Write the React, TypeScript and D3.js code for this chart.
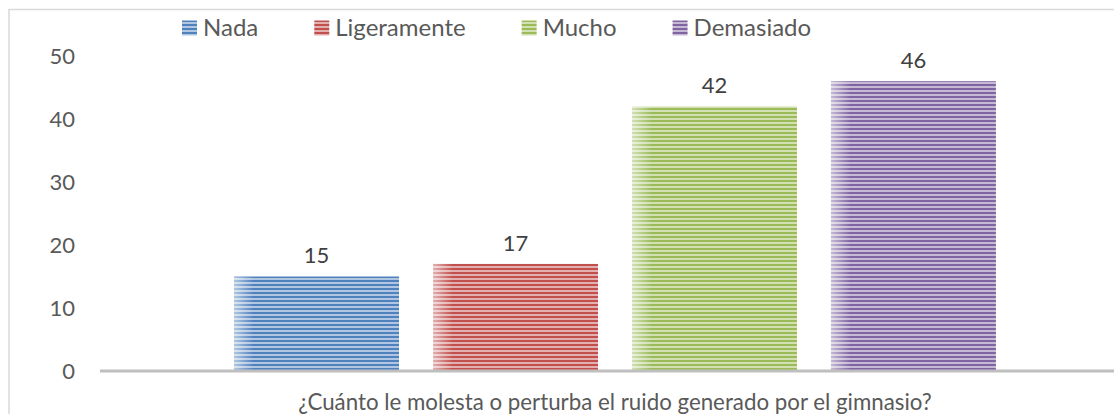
import * as d3 from 'd3';
import React, { useEffect, useRef } from 'react';

const categories = ['¿Cuánto le molesta o perturba el ruido generado por el gimnasio?'];
const seriesNames = ['Nada', 'Ligeramente', 'Mucho', 'Demasiado'];
const seriesValues = [15, 17, 42, 46];
const seriesColors = ['#4F81BD', '#C0504D', '#9BBB59', '#8064A2'];
const yTicks = [0, 10, 20, 30, 40, 50];

const W = 1114;
const H = 414;
const FONT = 'Lato, "Open Sans", sans-serif';

export default function App() {
  const svgRef = useRef<SVGSVGElement | null>(null);

  useEffect(() => {
    if (!svgRef.current) return;
    const svg = d3.select(svgRef.current);
    svg.selectAll('*').remove();

    const plotLeft = 100;
    const plotRight = 1130;
    const y = d3.scaleLinear().domain([0, 50]).range([371, 56]);
    const x0 = d3.scaleBand<string>().domain(categories).range([plotLeft, plotRight]).paddingOuter(0.176).paddingInner(0);
    const x1 = d3.scaleBand<string>().domain(seriesNames).range([0, x0.bandwidth()]).paddingInner(0.171);

    const defs = svg.append('defs');
    seriesNames.forEach((name, i) => {
      const base = seriesColors[i];
      const light = d3.interpolateRgb(base, '#ffffff')(0.55);
      const pat = defs.append('pattern')
        .attr('id', `stripe-${i}`)
        .attr('patternUnits', 'userSpaceOnUse')
        .attr('width', 8)
        .attr('height', 4);
      pat.append('rect').attr('width', 8).attr('height', 4).attr('fill', light);
      pat.append('rect').attr('width', 8).attr('height', 2).attr('fill', base);
    });
    const fade = defs.append('linearGradient')
      .attr('id', 'fade')
      .attr('x1', '0%').attr('x2', '100%').attr('y1', '0%').attr('y2', '0%');
    fade.append('stop').attr('offset', '0%').attr('stop-color', '#fff').attr('stop-opacity', 0.55);
    fade.append('stop').attr('offset', '12%').attr('stop-color', '#fff').attr('stop-opacity', 0);
    fade.append('stop').attr('offset', '100%').attr('stop-color', '#fff').attr('stop-opacity', 0);

    // chart frame
    svg.append('rect')
      .attr('x', 9).attr('y', 9.5)
      .attr('width', W + 20).attr('height', H + 20)
      .attr('fill', 'none')
      .attr('stroke', '#D9D9D9')
      .attr('stroke-width', 1.5);

    // y tick labels
    svg.append('g')
      .selectAll('text')
      .data(yTicks)
      .join('text')
      .attr('x', 75)
      .attr('y', (d) => y(d))
      .attr('dy', '0.35em')
      .attr('text-anchor', 'end')
      .attr('font-family', FONT)
      .attr('font-size', 22)
      .attr('fill', '#595959')
      .text((d) => d);

    const group = svg.append('g').attr('transform', `translate(${x0(categories[0])},0)`);

    const bars = group.selectAll('g.bar')
      .data(seriesValues)
      .join('g')
      .attr('class', 'bar');

    bars.append('rect')
      .attr('x', (d, i) => x1(seriesNames[i])!)
      .attr('y', (d) => y(d))
      .attr('width', x1.bandwidth())
      .attr('height', (d) => y(0) - y(d))
      .attr('fill', (d, i) => `url(#stripe-${i})`);

    bars.append('rect')
      .attr('x', (d, i) => x1(seriesNames[i])!)
      .attr('y', (d) => y(d))
      .attr('width', x1.bandwidth())
      .attr('height', (d) => y(0) - y(d))
      .attr('fill', 'url(#fade)');

    bars.append('text')
      .attr('x', (d, i) => x1(seriesNames[i])! + x1.bandwidth() / 2)
      .attr('y', (d) => y(d) - 21)
      .attr('dy', '0.35em')
      .attr('text-anchor', 'middle')
      .attr('font-family', FONT)
      .attr('font-size', 22)
      .attr('fill', '#404040')
      .text((d) => d);

    // x axis line
    svg.append('line')
      .attr('x1', plotLeft).attr('x2', W)
      .attr('y1', y(0)).attr('y2', y(0))
      .attr('stroke', '#BFBFBF')
      .attr('stroke-width', 3);

    // category label
    svg.append('text')
      .attr('x', x0(categories[0])! + x0.bandwidth() / 2)
      .attr('y', 410)
      .attr('text-anchor', 'middle')
      .attr('font-family', FONT)
      .attr('font-size', 22.3)
      .attr('fill', '#595959')
      .text(categories[0]);

    // legend
    const legend = svg.append('g').attr('transform', 'translate(182,28)');
    let cx = 0;
    seriesNames.forEach((name, i) => {
      const item = legend.append('g').attr('transform', `translate(${cx},0)`);
      item.append('rect')
        .attr('x', 0).attr('y', -7.5)
        .attr('width', 15).attr('height', 15)
        .attr('fill', `url(#stripe-${i})`);
      const t = item.append('text')
        .attr('x', 21)
        .attr('y', 0)
        .attr('dy', '0.35em')
        .attr('font-family', FONT)
        .attr('font-size', 24)
        .attr('fill', '#595959')
        .text(name);
      const tw = (t.node() as SVGTextElement).getComputedTextLength();
      cx += 21 + tw + 56;
    });
  }, []);

  return (
    <div style={{ position: 'absolute', left: 0, top: 0, width: W, height: H, background: '#fff' }}>
      <svg ref={svgRef} width={W} height={H} style={{ display: 'block' }} />
    </div>
  );
}
